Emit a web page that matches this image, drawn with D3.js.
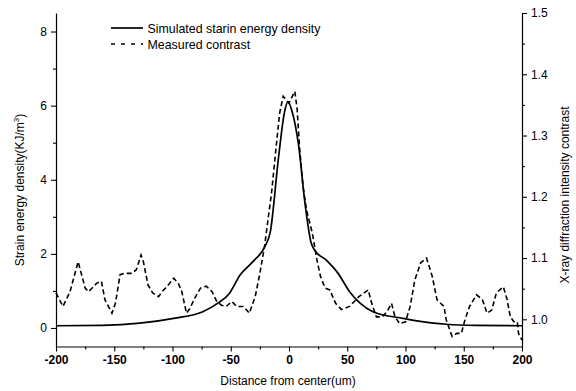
<!DOCTYPE html>
<html>
<head>
<meta charset="utf-8">
<style>
  body { margin: 0; background: #fff; }
  svg text { font-family: "Liberation Sans", Arial, sans-serif; fill: #000; }
</style>
</head>
<body>
<svg id="chart" width="576" height="391"></svg>
<script src="https://d3js.org/d3.v7.min.js"></script>
<script>
    // simulated strain energy density (left axis)
    const simX = [-200, -160, -128, -99, -74, -61, -51, -42, -31, -21, -16, -9, -4, -1, 3, 8, 14, 19, 22, 32, 42, 52, 61, 72, 98, 124, 135, 160, 200]
    const simY = [0.06, 0.07, 0.13, 0.26, 0.44, 0.67, 0.94, 1.43, 1.79, 2.18, 2.6, 4.6, 5.8, 6.1, 5.8, 4.98, 3.3, 2.3, 2.1, 1.83, 1.48, 0.98, 0.67, 0.44, 0.26, 0.13, 0.10, 0.07, 0.06]

    // measured x-ray contrast (right axis)
    const measX = [-200, -194, -188, -181, -175, -172, -165, -161, -158, -152, -149, -145, -141, -135, -131, -127, -125, -121, -117, -112, -109, -105, -99, -95, -92, -88, -85, -81, -76, -71, -66, -62, -58, -54, -49, -45, -39, -34, -29, -25, -21, -18, -15, -11, -8, -5, 0, 5, 7, 9, 12, 15, 20, 24, 27, 31, 35, 40, 45, 52, 60, 68, 71, 75, 80, 84, 88, 91, 95, 100, 104, 108, 113, 118, 123, 127, 133, 135, 140, 144, 148, 151, 155, 161, 166, 170, 174, 178, 184, 187, 190, 193, 196, 197, 200]
    const measY = [1.043, 1.021, 1.045, 1.094, 1.051, 1.045, 1.059, 1.062, 1.032, 1.010, 1.026, 1.073, 1.075, 1.075, 1.081, 1.105, 1.094, 1.056, 1.043, 1.037, 1.045, 1.053, 1.067, 1.059, 1.045, 1.010, 1.018, 1.034, 1.051, 1.054, 1.045, 1.029, 1.023, 1.021, 1.029, 1.021, 1.021, 1.010, 1.037, 1.075, 1.119, 1.163, 1.206, 1.282, 1.337, 1.364, 1.353, 1.372, 1.343, 1.282, 1.217, 1.179, 1.141, 1.097, 1.070, 1.051, 1.048, 1.026, 1.016, 1.021, 1.037, 1.048, 1.026, 1.004, 1.004, 1.012, 1.026, 1.004, 0.993, 0.996, 1.021, 1.064, 1.092, 1.100, 1.070, 1.032, 1.021, 0.999, 0.972, 0.977, 0.977, 0.999, 1.021, 1.040, 1.032, 1.010, 1.015, 1.043, 1.053, 1.034, 1.004, 0.996, 0.996, 0.977, 0.966]

    const xTicks = [-200, -150, -100, -50, 0, 50, 100, 150, 200]
    const yLeftTicks = [0, 2, 4, 6, 8]
    const yRightTicks = [1.0, 1.1, 1.2, 1.3, 1.4, 1.5]
    const legendLabels = ['Simulated starin energy density', 'Measured contrast']

    const svg = d3.select('#chart')
    const pLeft = 56, pRight = 522, pTop = 13, pBottom = 346.5

    const xScale = d3.scaleLinear().domain([-200, 200]).range([pLeft, pRight])
    const yLeft = d3.scaleLinear().domain([-0.5, 8.5]).range([pBottom, pTop])
    const yRight = d3.scaleLinear().domain([0.9556, 1.5]).range([pBottom, pTop])

    // axes (plain hyphen for negatives, like the original)
    const xAxis = svg.append('g')
                     .attr('transform', `translate(0,${pBottom})`)
                     .call(d3.axisBottom(xScale).tickValues(xTicks).tickSize(5).tickSizeOuter(0).tickPadding(4).tickFormat(d => String(d)))
    svg.append('g')
       .attr('transform', `translate(0,${pBottom})`)
       .call(d3.axisBottom(xScale).tickValues(d3.range(-175, 200, 50)).tickSize(3).tickFormat(''))
       .select('.domain').remove()

    svg.append('g')
       .attr('transform', `translate(${pLeft},0)`)
       .call(d3.axisLeft(yLeft).tickValues(yLeftTicks).tickSize(5).tickSizeOuter(0).tickPadding(4))
    svg.append('g')
       .attr('transform', `translate(${pLeft},0)`)
       .call(d3.axisLeft(yLeft).tickValues([1, 3, 5, 7]).tickSize(3).tickFormat(''))
       .select('.domain').remove()

    svg.append('g')
       .attr('transform', `translate(${pRight},0)`)
       .call(d3.axisRight(yRight).tickValues(yRightTicks).tickSize(5).tickSizeOuter(0).tickPadding(4).tickFormat(d => d.toFixed(1)))
    svg.append('g')
       .attr('transform', `translate(${pRight},0)`)
       .call(d3.axisRight(yRight).tickValues([1.05, 1.15, 1.25, 1.35, 1.45]).tickSize(3).tickFormat(''))
       .select('.domain').remove()

    svg.selectAll('.domain').attr('stroke', '#000').attr('stroke-width', 1.2)
    svg.selectAll('.tick line').attr('stroke', '#000').attr('stroke-width', 1.1)
    svg.selectAll('.tick text').attr('font-size', 12).attr('font-family', '"Liberation Sans", Arial, sans-serif')
    xAxis.selectAll('.tick text').attr('font-weight', 'bold')

    // axis titles
    svg.append('text')
       .attr('x', 288).attr('y', 385)
       .attr('text-anchor', 'middle')
       .attr('font-size', 12)
       .text('Distance from center(um)')

    const yt = svg.append('text')
                  .attr('transform', 'translate(24,190) rotate(-90)')
                  .attr('text-anchor', 'middle')
                  .attr('font-size', 12)
    yt.append('tspan').text('Strain energy density(KJ/m')
    yt.append('tspan').attr('dy', -5).attr('font-size', 8).text('3')
    yt.append('tspan').attr('dy', 5).text(')')

    svg.append('text')
       .attr('transform', 'translate(569,195) rotate(-90)')
       .attr('text-anchor', 'middle')
       .attr('font-size', 12)
       .text('X-ray diffraction intensity contrast')

    // lines
    const simData = simX.map((x, i) => [x, simY[i]])
    const measData = measX.map((x, i) => [x, measY[i]])

    svg.append('path')
       .datum(simData)
       .attr('fill', 'none')
       .attr('stroke', '#000')
       .attr('stroke-width', 1.7)
       .attr('d', d3.line().x(d => xScale(d[0])).y(d => yLeft(d[1])).curve(d3.curveMonotoneX))

    svg.append('path')
       .datum(measData)
       .attr('fill', 'none')
       .attr('stroke', '#000')
       .attr('stroke-width', 1.6)
       .attr('stroke-dasharray', '5,3')
       .attr('d', d3.line().x(d => xScale(d[0])).y(d => yRight(d[1])))

    // legend
    const legend = svg.append('g')
    legendLabels.forEach((label, i) => {
        const y = 28 + i * 16
        legend.append('line')
              .attr('x1', 111).attr('x2', 143).attr('y1', y).attr('y2', y)
              .attr('stroke', '#000').attr('stroke-width', 1.7)
              .attr('stroke-dasharray', i === 1 ? '4,6' : null)
        legend.append('text')
              .attr('x', 147.5).attr('y', y + 4.5)
              .attr('font-size', 12.4)
              .text(label)
    })
</script>
</body>
</html>
